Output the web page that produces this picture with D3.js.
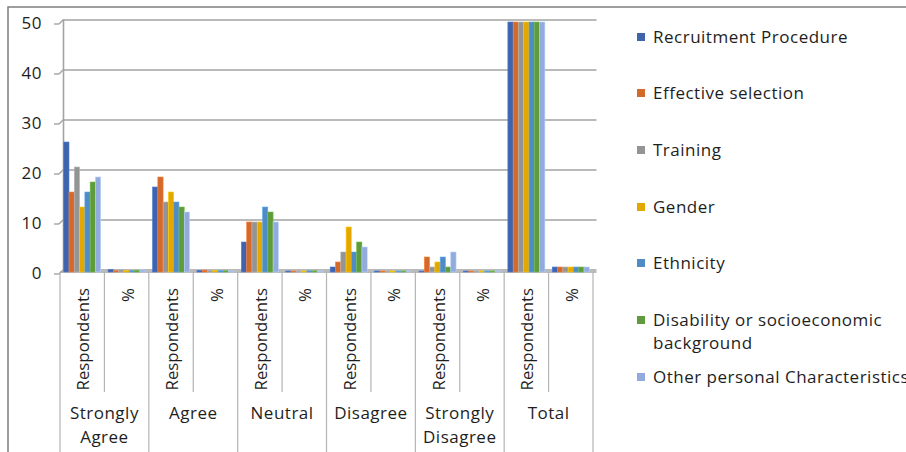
<!DOCTYPE html>
<html>
<head>
<meta charset="utf-8">
<script src="https://cdn.jsdelivr.net/npm/d3@7"></script>
<style>
  body { margin: 0; background: #fff; }
  text { font-family: "Open Sans", sans-serif; fill: #1e1e1e; }
  .wide { letter-spacing: 0.5px; }
</style>
</head>
<body>
<svg id="chart" width="906" height="452"></svg>
<script>
// Response categories and the two measures shown under each one
const groups = ["Strongly Agree", "Agree", "Neutral", "Disagree", "Strongly Disagree", "Total"];
const measures = ["Respondents", "%"];

const seriesNames = [
  "Recruitment Procedure",
  "Effective selection",
  "Training",
  "Gender",
  "Ethnicity",
  "Disability or socioeconomic background",
  "Other personal Characteristics"
];

// Values per series, ordered as [group1 Respondents, group1 %, group2 Respondents, ...]
const recruitmentProcedure = [26, 0.52, 17, 0.34, 6, 0.12, 1, 0.02, 0, 0, 50, 1];
const effectiveSelection   = [16, 0.32, 19, 0.38, 10, 0.20, 2, 0.04, 3, 0.06, 50, 1];
const training             = [21, 0.42, 14, 0.28, 10, 0.20, 4, 0.08, 1, 0.02, 50, 1];
const gender               = [13, 0.26, 16, 0.32, 10, 0.20, 9, 0.18, 2, 0.04, 50, 1];
const ethnicity            = [16, 0.32, 14, 0.28, 13, 0.26, 4, 0.08, 3, 0.06, 50, 1];
const disability           = [18, 0.36, 13, 0.26, 12, 0.24, 6, 0.12, 1, 0.02, 50, 1];
const otherCharacteristics = [19, 0.38, 12, 0.24, 10, 0.20, 5, 0.10, 4, 0.08, 50, 1];

const yTicks = [0, 10, 20, 30, 40, 50];

const colors = ["#3e64ae", "#d4692c", "#949494", "#e3a700", "#4f8bc5", "#5f9b3c", "#93abdc"];

const seriesValues = [recruitmentProcedure, effectiveSelection, training, gender,
                      ethnicity, disability, otherCharacteristics];

const svg = d3.select("#chart");

// chart frame
svg.append("path")
  .attr("d", "M8,452 V7 H906")
  .attr("fill", "none")
  .attr("stroke", "#7f7f7f")
  .attr("stroke-width", 1.5);

const slots = groups.flatMap(g => measures.map(m => g + "|" + m));
const left = 60, right = 593;
const depthX = 3.5, depthY = -3.5;

const x = d3.scaleBand().domain(slots).range([left, right]);
const xs = d3.scaleBand().domain(seriesNames).range([0, x.bandwidth()]).paddingOuter(0.7);
const y = d3.scaleLinear().domain([0, 50]).range([272, 22]);

// back wall: gridlines and left edge
const wall = svg.append("g").attr("transform", `translate(${left + depthX},${depthY + 1})`);
wall.call(d3.axisLeft(y).tickValues(yTicks).tickSize(-(right - left)).tickFormat(""))
  .call(g => g.select(".domain").remove())
  .call(g => g.selectAll(".tick line").attr("stroke", "#a3a3a3").attr("stroke-width", 1.6));
wall.append("line")
  .attr("x1", 0).attr("x2", 0)
  .attr("y1", y(50)).attr("y2", y(0))
  .attr("stroke", "#a3a3a3").attr("stroke-width", 1.6);

// front value axis: ticks with short depth connectors to the wall
const yAxis = svg.append("g").attr("transform", `translate(${left - 1},1.5)`);
yAxis.call(d3.axisLeft(y).tickValues(yTicks).tickSize(5).tickPadding(12))
  .call(g => g.select(".domain").remove())
  .call(g => g.selectAll(".tick line").attr("stroke", "#a3a3a3").attr("stroke-width", 1.4))
  .call(g => g.selectAll(".tick text").attr("font-size", 17).attr("class", "wide").style("fill", "#1e1e1e"));
yAxis.selectAll(".tick").append("line")
  .attr("x1", 0).attr("y1", 0)
  .attr("x2", depthX + 1).attr("y2", depthY - 1)
  .attr("stroke", "#a3a3a3").attr("stroke-width", 1.4);

// floor front edge
svg.append("line")
  .attr("x1", left).attr("x2", right + depthX)
  .attr("y1", y(0)).attr("y2", y(0))
  .attr("stroke", "#a3a3a3").attr("stroke-width", 1.4);

// columns
const barData = [];
seriesValues.forEach((vals, si) => {
  vals.forEach((v, i) => barData.push({ slot: slots[i], series: seriesNames[si], si, v }));
});

const bars = svg.append("g");
const bw = xs.bandwidth();
bars.selectAll("rect.bar")
  .data(barData)
  .join("rect")
  .attr("class", "bar")
  .attr("x", d => x(d.slot) + xs(d.series))
  .attr("y", d => Math.min(y(d.v), y(0) - 1))
  .attr("width", bw)
  .attr("height", d => Math.max(y(0) - y(d.v), 1))
  .attr("fill", d => colors[d.si])
  .attr("stroke", d => d3.color(colors[d.si]).brighter(0.6))
  .attr("stroke-width", 0.6);

// category axis dividers
const boundaries = slots.map((s, i) => ({ xpos: x(s), group: i % 2 === 0 }));
boundaries.push({ xpos: right, group: true });
svg.append("g").selectAll("line")
  .data(boundaries)
  .join("line")
  .attr("x1", d => d.xpos).attr("x2", d => d.xpos)
  .attr("y1", y(0))
  .attr("y2", d => d.group ? 452 : 392)
  .attr("stroke", "#b4b4b4").attr("stroke-width", 1.2);

// measure labels (rotated)
svg.append("g").selectAll("text")
  .data(slots)
  .join("text")
  .attr("transform", s => `translate(${x(s) + x.bandwidth() / 2 + 1},288) rotate(-90)`)
  .attr("text-anchor", "end")
  .attr("dy", "0.36em")
  .attr("font-size", 16.8)
  .text(s => s.split("|")[1]);

// response group labels
const groupWidth = x.bandwidth() * 2;
const gl = svg.append("g").selectAll("text")
  .data(groups)
  .join("text")
  .attr("class", "wide")
  .attr("x", g => x(g + "|" + measures[0]) + groupWidth / 2)
  .attr("y", 419)
  .attr("text-anchor", "middle")
  .attr("font-size", 17);
gl.each(function (g) {
  const words = g.split(" ");
  const t = d3.select(this);
  if (words.length === 1) {
    t.text(g);
  } else {
    words.forEach((w, i) => {
      t.append("tspan").attr("x", t.attr("x")).attr("dy", i === 0 ? 0 : 24).text(w);
    });
  }
});

// legend
const legendRows = [
  { lines: ["Recruitment Procedure"], cy: 37 },
  { lines: ["Effective selection"], cy: 93 },
  { lines: ["Training"], cy: 150 },
  { lines: ["Gender"], cy: 207 },
  { lines: ["Ethnicity"], cy: 263 },
  { lines: ["Disability or socioeconomic", "background"], cy: 320 },
  { lines: ["Other personal Characteristics"], cy: 377 }
];
const legend = svg.append("g");
legendRows.forEach((row, i) => {
  legend.append("rect")
    .attr("x", 637).attr("y", row.cy - 4)
    .attr("width", 8).attr("height", 8)
    .attr("fill", colors[i]);
  row.lines.forEach((ln, j) => {
    legend.append("text")
      .attr("class", "wide")
      .attr("x", 653).attr("y", row.cy + j * 23)
      .attr("dy", "0.36em")
      .attr("font-size", 17)
      .text(ln);
  });
});
</script>
</body>
</html>
